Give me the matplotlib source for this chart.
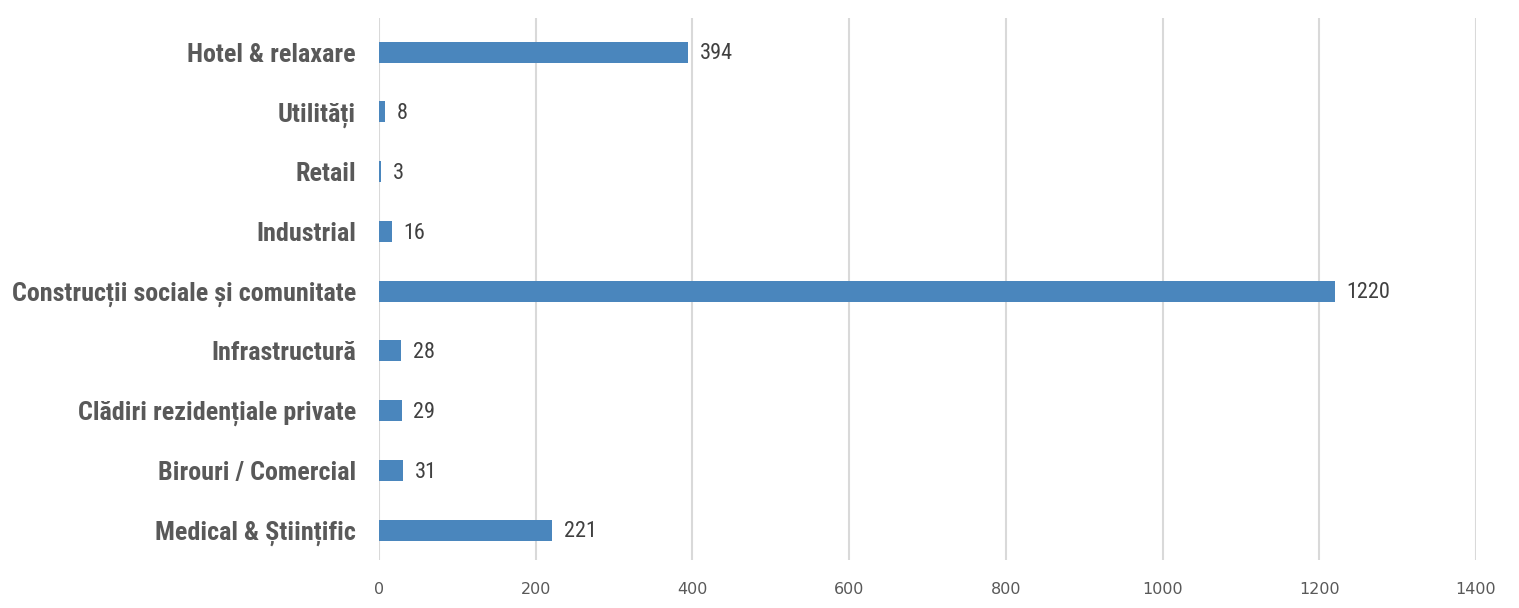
import numpy as np
import matplotlib.pyplot as plt

categories = ['Medical & Științific', 'Birouri / Comercial', 'Clădiri rezidențiale private',
              'Infrastructură', 'Construcții sociale și comunitate', 'Industrial',
              'Retail', 'Utilități', 'Hotel & relaxare']
values = [221, 31, 29, 28, 1220, 16, 3, 8, 394]
xticks = [0, 200, 400, 600, 800, 1000, 1200, 1400]

narrow = ['Roboto Condensed', 'DejaVu Sans']

fig = plt.figure(figsize=(15.19, 6.08), dpi=100)
ax = fig.add_axes([379 / 1519, 1 - 560 / 608, 1097 / 1519, 542 / 608])

y = np.arange(len(categories))
ax.barh(y, values, height=0.35, color='#4a86bd', zorder=3)

for yi, v in zip(y, values):
    ax.text(v + 15, yi - 0.03, str(v), va='center', ha='left', fontsize=16,
            family=narrow, color='#404040')

ax.set_yticks(y)
ax.set_yticklabels(categories, fontsize=18.8, fontweight='black', family=narrow, color='#595959')
ax.set_xticks(xticks)
ax.set_xticklabels([str(t) for t in xticks], fontsize=11.5, color='#595959')
ax.set_xlim(0, 1400)
ax.set_ylim(-0.5, 8.57)

ax.grid(axis='x', color='#d9d9d9', linewidth=1.5, zorder=0)
ax.tick_params(axis='both', length=0)
ax.tick_params(axis='x', pad=16)
ax.tick_params(axis='y', pad=16.5)
for s in ax.spines.values():
    s.set_visible(False)

fig.savefig('out.png', dpi=100)
